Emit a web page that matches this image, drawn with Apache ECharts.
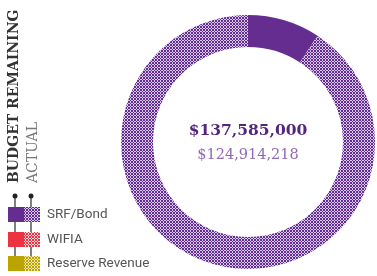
<!DOCTYPE html>
<html><head><meta charset="utf-8">
<script src="https://cdn.jsdelivr.net/npm/echarts@6/dist/echarts.min.js"></script>
<style>html,body{margin:0;padding:0;background:#fff}#c{width:377px;height:276px}</style>
</head><body><div id="c"></div>
<script>
const categories = ['SRF/Bond', 'WIFIA', 'Reserve Revenue'];
const budgetRemaining = [137585000, 0, 0];
const actual = [124914218, 0, 0];
const colors = ['#662d91', '#ee3340', '#bba300'];
const titleMain = 'BUDGET REMAINING';
const titleSub = 'ACTUAL';

function pattern(base, light) {
  const c = document.createElement('canvas');
  c.width = 3; c.height = 3;
  const g = c.getContext('2d');
  g.fillStyle = base; g.fillRect(0, 0, 3, 3);
  g.fillStyle = light;
  [[1,0],[0,1],[2,1],[1,2]].forEach(p => g.fillRect(p[0], p[1], 1, 1));
  return { image: c, repeat: 'repeat' };
}
const lights = ['#d6c8e8', '#fcd6d9', '#efe6b0'];

const fmt = v => '$' + v.toLocaleString('en-US');

const pieData = [];
categories.forEach((name, i) => {
  const spent = budgetRemaining[i] - actual[i];
  if (spent > 0) pieData.push({ name: name + ' (spent)', value: spent, itemStyle: { color: colors[i] } });
  if (actual[i] > 0) pieData.push({ name: name, value: actual[i], itemStyle: { color: pattern(colors[i], lights[i]) } });
});

const graphics = [
  { type: 'text', x: 14, y: 183, rotation: Math.PI / 2,
    style: { text: titleMain, font: 'bold 14px "DejaVu Serif"', fill: '#333', align: 'left', verticalAlign: 'middle' } },
  { type: 'text', x: 33, y: 183, rotation: Math.PI / 2,
    style: { text: titleSub, font: '14px "DejaVu Serif"', fill: '#777', align: 'left', verticalAlign: 'middle' } },
  { type: 'line', shape: { x1: 15, y1: 196, x2: 15, y2: 271 }, style: { stroke: '#555', lineWidth: 1.5 } },
  { type: 'line', shape: { x1: 31, y1: 196, x2: 31, y2: 271 }, style: { stroke: '#555', lineWidth: 1.5 } },
  { type: 'circle', shape: { cx: 15, cy: 196, r: 2.5 }, style: { fill: '#222' } },
  { type: 'circle', shape: { cx: 31, cy: 196, r: 2.5 }, style: { fill: '#222' } },
  { type: 'text', x: 248, y: 131, style: { text: fmt(budgetRemaining[0]), font: 'bold 15.5px "DejaVu Serif"', fill: '#55247f', align: 'center', verticalAlign: 'middle' } },
  { type: 'text', x: 248, y: 155, style: { text: fmt(actual[0]), font: '14.5px "DejaVu Serif"', fill: '#9068b6', align: 'center', verticalAlign: 'middle' } }
];
const rowY = [207, 232, 256];
categories.forEach((name, i) => {
  graphics.push({ type: 'rect', z: 10, shape: { x: 8, y: rowY[i], width: 16, height: 15 }, style: { fill: colors[i] } });
  graphics.push({ type: 'rect', z: 10, shape: { x: 24, y: rowY[i], width: 16, height: 15 }, style: { fill: pattern(colors[i], lights[i]) } });
  graphics.push({ type: 'text', z: 10, x: 47, y: rowY[i] + 8, style: { text: name, font: '13.5px Roboto', fill: '#555', align: 'left', verticalAlign: 'middle' } });
});

const chart = echarts.init(document.getElementById('c'), null, { renderer: 'canvas' });
chart.setOption({
  animation: false,
  series: [{
    type: 'pie', radius: [95, 127], center: [248, 142], startAngle: 90, clockwise: true,
    label: { show: false }, labelLine: { show: false }, silent: true,
    itemStyle: { borderWidth: 0 },
    data: pieData
  }],
  graphic: graphics
});
</script></body></html>
